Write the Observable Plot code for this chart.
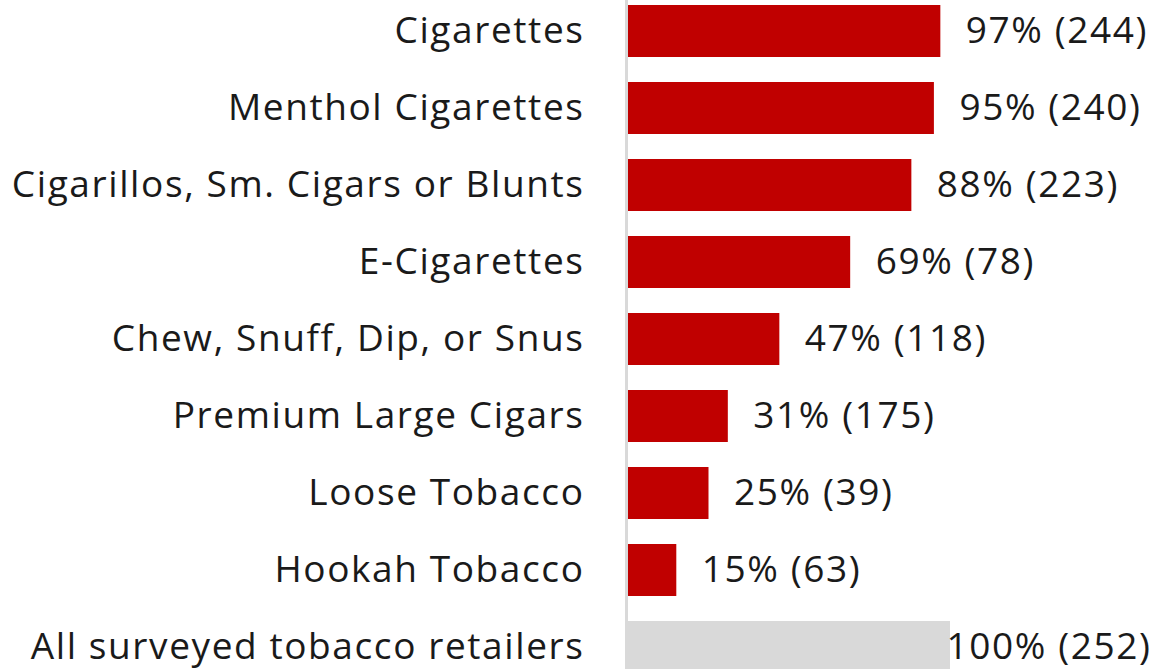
<!DOCTYPE html>
<html>
<head>
<meta charset="utf-8">
<script src="https://cdn.jsdelivr.net/npm/d3@7"></script>
<script src="https://cdn.jsdelivr.net/npm/@observablehq/plot@0.6"></script>
<style>
  html, body { margin: 0; padding: 0; background: #fff; }
  #chart svg { display: block; }
  #chart svg text { letter-spacing: 1.6px; }
</style>
</head>
<body>
<div id="chart"></div>
<script>
const categories = [
  "Cigarettes",
  "Menthol Cigarettes",
  "Cigarillos, Sm. Cigars or Blunts",
  "E-Cigarettes",
  "Chew, Snuff, Dip, or Snus",
  "Premium Large Cigars",
  "Loose Tobacco",
  "Hookah Tobacco",
  "All surveyed tobacco retailers"
];
const percents = [97, 95, 88, 69, 47, 31, 25, 15, 100];
const counts = [244, 240, 223, 78, 118, 175, 39, 63, 252];
const isTotal = [false, false, false, false, false, false, false, false, true];

const data = categories.map((c, i) => ({
  category: c,
  pct: percents[i],
  n: counts[i],
  total: isTotal[i],
  label: `${percents[i]}% (${counts[i]})`
}));

const font = "'Open Sans', Lato, sans-serif";

const chart = Plot.plot({
  width: 1161,
  height: 669,
  marginLeft: 628,
  marginRight: 211,
  marginTop: 0,
  marginBottom: 0,
  style: { fontFamily: font, fontSize: "37px", color: "#1a1a1a", background: "#fff", overflow: "visible" },
  x: { domain: [0, 100], axis: null },
  y: {
    domain: categories,
    range: [-7.5, 685.5],
    paddingInner: 0.325,
    paddingOuter: 0.1625,
    label: null,
    tickSize: 0,
    tickPadding: 44
  },
  marks: [
    Plot.ruleX([0], { stroke: "#d9d9d9", strokeWidth: 3, dx: -2 }),
    Plot.barX(data, {
      x: "pct",
      y: "category",
      fill: d => d.total ? "#d9d9d9" : "#c00000"
    }),
    Plot.text(data.filter(d => !d.total), {
      x: "pct",
      y: "category",
      text: "label",
      textAnchor: "start",
      dx: 25,
      fill: "#1a1a1a",
      fontSize: 37
    }),
    Plot.text(data.filter(d => d.total), {
      x: "pct",
      y: "category",
      text: "label",
      textAnchor: "start",
      dx: -4,
      fill: "#1a1a1a",
      fontSize: 37
    }),
    Plot.axisY({
      tickSize: 0,
      tickPadding: 44,
      fontSize: 37,
      label: null,
      fill: "#1a1a1a"
    })
  ]
});

document.getElementById("chart").appendChild(chart);
</script>
</body>
</html>
